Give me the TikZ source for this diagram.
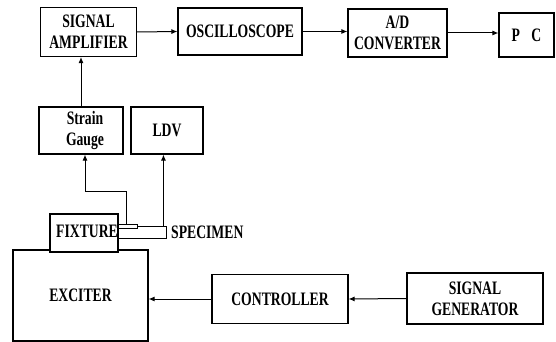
\documentclass[tikz,border=0pt]{standalone}
\usepackage{fontspec}
\newfontfamily\labelfont[FakeStretch=0.72]{Liberation Serif}
\usepackage{tikz}
\usetikzlibrary{positioning, arrows.meta}

\begin{document}
\begin{tikzpicture}[
  x=1pt, y=-1pt,
  box/.style={draw, line width=1.1pt, align=center, inner sep=0pt,
    font={\labelfont\bfseries\fontsize{19}{21}\selectfont}},
  lbl/.style={inner sep=0pt, font={\labelfont\bfseries\fontsize{19}{21}\selectfont}},
  arr/.style={-{Latex[length=6pt,width=5pt]}, line width=1pt},
]
  \useasboundingbox (0,0) rectangle (556,342);
  % measurement chain
  \node[box, minimum width=96pt, minimum height=49pt]  (amp) at (88.5,32) {SIGNAL\\AMPLIFIER};
  \node[box, minimum width=124pt, minimum height=47pt] (osc) at (240,31.5) {OSCILLOSCOPE};
  \node[box, minimum width=99pt, minimum height=48pt]  (adc) at (397.5,33) {A/D\\CONVERTER};
  \node[box, minimum width=55pt, minimum height=44pt]  (pc)  at (526.5,35) {P\hspace{0.6em}C};
  % sensors
  \node[box, minimum width=84pt, minimum height=47pt]  (gauge) at (81,130.5) {\hspace*{8pt}Strain\\\hspace*{8pt}Gauge};
  \node[box, minimum width=72pt, minimum height=47pt]  (ldv)   at (167,130.5) {LDV};
  % excitation side
  \node[box, minimum width=135pt, minimum height=91pt] (exciter) at (80.5,295.5) {EXCITER};
  \node[box, minimum width=68pt, minimum height=38pt, fill=white] (fixture) at (84,233) {};
  \node[box, minimum width=48pt, minimum height=12pt, line width=0.9pt] (specimen) at (142,232) {};
  \node[lbl] (fixlabel) at (87,231) {FIXTURE};
  \node[draw, line width=0.8pt, fill=white, minimum width=19pt, minimum height=4pt, inner sep=0pt] (sensor) at (127.5,226) {};
  \node[lbl, anchor=west] (speclabel) at (171,232) {SPECIMEN};
  \node[box, minimum width=136pt, minimum height=49pt] (ctrl) at (280,299) {CONTROLLER};
  \node[box, minimum width=136pt, minimum height=51pt] (gen)  at (475,298.5) {SIGNAL\\GENERATOR};

  \coordinate (bend) at (126,191);
  \draw[arr] (gauge.north) -- (gauge.north |- amp.south);
  \draw[arr] (amp.east) -- (osc.west);
  \draw[arr] (osc.east) -- (osc.east -| adc.west);
  \draw[arr] (adc.east) -- (adc.east -| pc.west);
  \draw[arr] (sensor.north -| bend) -- (bend) -| ([xshift=4pt]gauge.south);
  \draw[arr] ([xshift=-3pt]specimen.north east) -- ([xshift=-3pt]specimen.north east |- ldv.south);
  \draw[arr] (gen.west) -- (ctrl.east);
  \draw[arr] (ctrl.west) -- (ctrl.west -| exciter.east);
\end{tikzpicture}
\end{document}
